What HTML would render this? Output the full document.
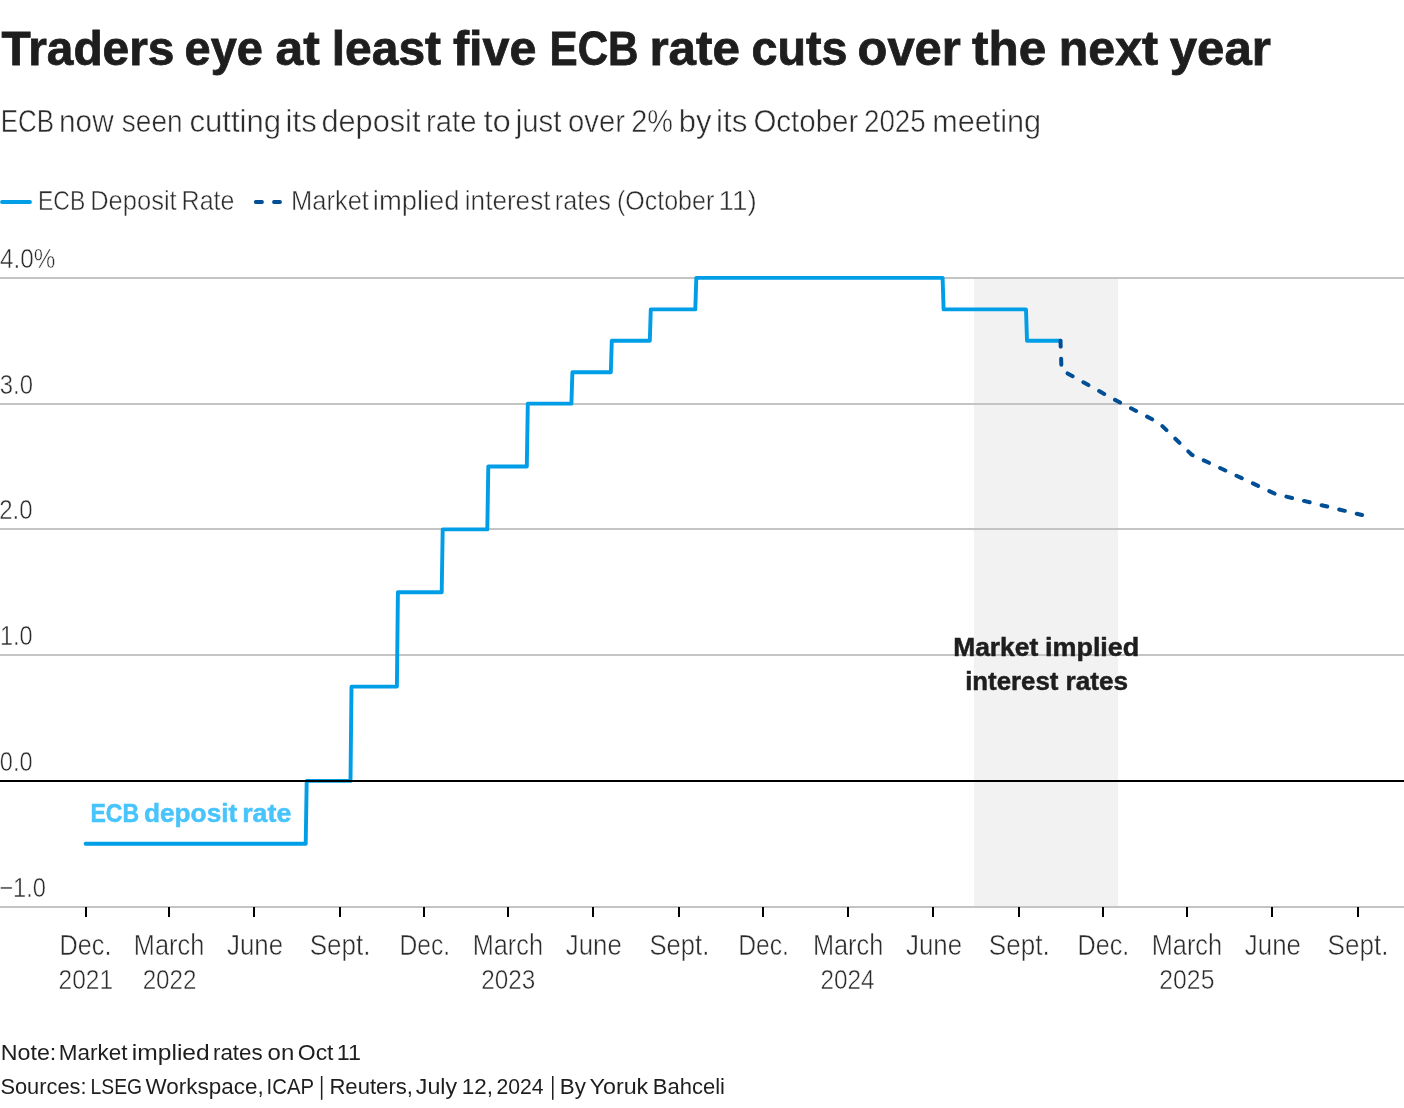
<!DOCTYPE html>
<html><head><meta charset="utf-8"><style>
html,body{margin:0;padding:0;background:#fff;width:1404px;height:1108px;overflow:hidden}
svg{display:block;font-family:"Liberation Sans",sans-serif;will-change:transform}
</style></head><body>
<svg width="1404" height="1108" viewBox="0 0 1404 1108">
<rect id="shade" x="974" y="279" width="144" height="627" fill="#f2f2f2"/>
<line x1="0" x2="1404" y1="278.00" y2="278.00" stroke="#c4c4c4" stroke-width="2"/>
<line x1="0" x2="1404" y1="404.00" y2="404.00" stroke="#c4c4c4" stroke-width="2"/>
<line x1="0" x2="1404" y1="529.00" y2="529.00" stroke="#c4c4c4" stroke-width="2"/>
<line x1="0" x2="1404" y1="655.00" y2="655.00" stroke="#c4c4c4" stroke-width="2"/>
<line x1="0" x2="1404" y1="907" y2="907" stroke="#c4c4c4" stroke-width="2"/>
<path id="ticks" d="M86 907V917 M169 907V917 M254 907V917 M340 907V917 M424 907V917 M508 907V917 M593 907V917 M679 907V917 M763 907V917 M848 907V917 M933 907V917 M1019 907V917 M1103 907V917 M1187 907V917 M1272 907V917 M1358 907V917" stroke="#000" stroke-width="2" fill="none"/>
<path id="blue" d="M85.60 843.77 L305.70 843.77 L306.70 780.90 L350.50 780.90 L351.50 686.59 L396.90 686.59 L397.90 592.27 L441.70 592.27 L442.70 529.40 L487.30 529.40 L488.30 466.52 L526.80 466.52 L527.80 403.65 L571.40 403.65 L572.40 372.21 L610.80 372.21 L611.80 340.77 L649.80 340.77 L650.80 309.34 L695.30 309.34 L696.30 277.90 L942.60 277.90 L943.60 309.34 L1026.00 309.34 L1027.00 340.77 L1060.50 340.77" stroke="#009ee6" stroke-width="3.9" fill="none" stroke-linejoin="round" stroke-linecap="round"/>
<path id="dash" d="M1060.50 340.77 L1061.50 370.00 L1113.70 399.20 L1159.20 423.00 L1191.70 454.70 L1275.50 494.00 L1362.00 515.00" stroke="#004f96" stroke-width="4" fill="none" stroke-dasharray="5.8 12.3" stroke-linejoin="round" stroke-linecap="round"/>
<line id="zero" x1="0" x2="1404" y1="781" y2="781" stroke="#000" stroke-width="2"/>
<line id="leg1" x1="2" x2="30" y1="202" y2="202" stroke="#009ee6" stroke-width="3.8" stroke-linecap="round"/>
<path id="leg2" d="M255.8 202H262M274 202H280" stroke="#004f96" stroke-width="3.8" stroke-linecap="round"/>
<text id="t_title_0" x="1.60" y="65.40" font-size="47.80" font-weight="bold" fill="#1e1e1e" stroke="#1e1e1e" stroke-width="0.80" textLength="172.82" lengthAdjust="spacingAndGlyphs">Traders</text>
<text id="t_title_1" x="184.60" y="65.40" font-size="47.80" font-weight="bold" fill="#1e1e1e" stroke="#1e1e1e" stroke-width="0.80" textLength="78.27" lengthAdjust="spacingAndGlyphs">eye</text>
<text id="t_title_2" x="275.60" y="65.40" font-size="47.80" font-weight="bold" fill="#1e1e1e" stroke="#1e1e1e" stroke-width="0.80" textLength="44.23" lengthAdjust="spacingAndGlyphs">at</text>
<text id="t_title_3" x="331.80" y="65.40" font-size="47.80" font-weight="bold" fill="#1e1e1e" stroke="#1e1e1e" stroke-width="0.80" textLength="109.27" lengthAdjust="spacingAndGlyphs">least</text>
<text id="t_title_4" x="453.00" y="65.40" font-size="47.80" font-weight="bold" fill="#1e1e1e" stroke="#1e1e1e" stroke-width="0.80" textLength="83.43" lengthAdjust="spacingAndGlyphs">five</text>
<text id="t_title_5" x="549.60" y="65.40" font-size="47.80" font-weight="bold" fill="#1e1e1e" stroke="#1e1e1e" stroke-width="0.80" textLength="88.95" lengthAdjust="spacingAndGlyphs">ECB</text>
<text id="t_title_6" x="649.40" y="65.40" font-size="47.80" font-weight="bold" fill="#1e1e1e" stroke="#1e1e1e" stroke-width="0.80" textLength="90.58" lengthAdjust="spacingAndGlyphs">rate</text>
<text id="t_title_7" x="751.60" y="65.40" font-size="47.80" font-weight="bold" fill="#1e1e1e" stroke="#1e1e1e" stroke-width="0.80" textLength="95.91" lengthAdjust="spacingAndGlyphs">cuts</text>
<text id="t_title_8" x="857.60" y="65.40" font-size="47.80" font-weight="bold" fill="#1e1e1e" stroke="#1e1e1e" stroke-width="0.80" textLength="103.23" lengthAdjust="spacingAndGlyphs">over</text>
<text id="t_title_9" x="972.00" y="65.40" font-size="47.80" font-weight="bold" fill="#1e1e1e" stroke="#1e1e1e" stroke-width="0.80" textLength="74.22" lengthAdjust="spacingAndGlyphs">the</text>
<text id="t_title_10" x="1058.80" y="65.40" font-size="47.80" font-weight="bold" fill="#1e1e1e" stroke="#1e1e1e" stroke-width="0.80" textLength="99.27" lengthAdjust="spacingAndGlyphs">next</text>
<text id="t_title_11" x="1169.80" y="65.40" font-size="47.80" font-weight="bold" fill="#1e1e1e" stroke="#1e1e1e" stroke-width="0.80" textLength="101.02" lengthAdjust="spacingAndGlyphs">year</text>
<text id="t_sub_0" x="0.80" y="131.60" font-size="31.44" font-weight="normal" fill="#2b2b2b" stroke="#fff" stroke-width="0.50" textLength="53.30" lengthAdjust="spacingAndGlyphs">ECB</text>
<text id="t_sub_1" x="59.00" y="131.60" font-size="31.44" font-weight="normal" fill="#2b2b2b" stroke="#fff" stroke-width="0.50" textLength="54.65" lengthAdjust="spacingAndGlyphs">now</text>
<text id="t_sub_2" x="121.80" y="131.60" font-size="31.44" font-weight="normal" fill="#2b2b2b" stroke="#fff" stroke-width="0.50" textLength="60.78" lengthAdjust="spacingAndGlyphs">seen</text>
<text id="t_sub_3" x="189.40" y="131.60" font-size="31.44" font-weight="normal" fill="#2b2b2b" stroke="#fff" stroke-width="0.50" textLength="91.76" lengthAdjust="spacingAndGlyphs">cutting</text>
<text id="t_sub_4" x="285.60" y="131.60" font-size="31.44" font-weight="normal" fill="#2b2b2b" stroke="#fff" stroke-width="0.50" textLength="31.11" lengthAdjust="spacingAndGlyphs">its</text>
<text id="t_sub_5" x="321.40" y="131.60" font-size="31.44" font-weight="normal" fill="#2b2b2b" stroke="#fff" stroke-width="0.50" textLength="99.03" lengthAdjust="spacingAndGlyphs">deposit</text>
<text id="t_sub_6" x="426.00" y="131.60" font-size="31.44" font-weight="normal" fill="#2b2b2b" stroke="#fff" stroke-width="0.50" textLength="50.43" lengthAdjust="spacingAndGlyphs">rate</text>
<text id="t_sub_7" x="483.40" y="131.60" font-size="31.44" font-weight="normal" fill="#2b2b2b" stroke="#fff" stroke-width="0.50" textLength="27.41" lengthAdjust="spacingAndGlyphs">to</text>
<text id="t_sub_8" x="515.80" y="131.60" font-size="31.44" font-weight="normal" fill="#2b2b2b" stroke="#fff" stroke-width="0.50" textLength="45.64" lengthAdjust="spacingAndGlyphs">just</text>
<text id="t_sub_9" x="568.00" y="131.60" font-size="31.44" font-weight="normal" fill="#2b2b2b" stroke="#fff" stroke-width="0.50" textLength="56.88" lengthAdjust="spacingAndGlyphs">over</text>
<text id="t_sub_10" x="631.20" y="131.60" font-size="31.44" font-weight="normal" fill="#2b2b2b" stroke="#fff" stroke-width="0.50" textLength="41.75" lengthAdjust="spacingAndGlyphs">2%</text>
<text id="t_sub_11" x="678.80" y="131.60" font-size="31.44" font-weight="normal" fill="#2b2b2b" stroke="#fff" stroke-width="0.50" textLength="32.64" lengthAdjust="spacingAndGlyphs">by</text>
<text id="t_sub_12" x="716.00" y="131.60" font-size="31.44" font-weight="normal" fill="#2b2b2b" stroke="#fff" stroke-width="0.50" textLength="31.31" lengthAdjust="spacingAndGlyphs">its</text>
<text id="t_sub_13" x="753.40" y="131.60" font-size="31.44" font-weight="normal" fill="#2b2b2b" stroke="#fff" stroke-width="0.50" textLength="104.84" lengthAdjust="spacingAndGlyphs">October</text>
<text id="t_sub_14" x="864.00" y="131.60" font-size="31.44" font-weight="normal" fill="#2b2b2b" stroke="#fff" stroke-width="0.50" textLength="61.70" lengthAdjust="spacingAndGlyphs">2025</text>
<text id="t_sub_15" x="932.20" y="131.60" font-size="31.44" font-weight="normal" fill="#2b2b2b" stroke="#fff" stroke-width="0.50" textLength="108.96" lengthAdjust="spacingAndGlyphs">meeting</text>
<text id="t_leg_0" x="38.00" y="209.90" font-size="28.42" font-weight="normal" fill="#2b2b2b" stroke="#fff" stroke-width="0.50" textLength="47.22" lengthAdjust="spacingAndGlyphs">ECB</text>
<text id="t_leg_1" x="90.20" y="209.90" font-size="28.42" font-weight="normal" fill="#2b2b2b" stroke="#fff" stroke-width="0.50" textLength="86.47" lengthAdjust="spacingAndGlyphs">Deposit</text>
<text id="t_leg_2" x="181.60" y="209.90" font-size="28.42" font-weight="normal" fill="#2b2b2b" stroke="#fff" stroke-width="0.50" textLength="52.89" lengthAdjust="spacingAndGlyphs">Rate</text>
<text id="t_leg_3" x="291.00" y="209.90" font-size="28.42" font-weight="normal" fill="#2b2b2b" stroke="#fff" stroke-width="0.50" textLength="77.89" lengthAdjust="spacingAndGlyphs">Market</text>
<text id="t_leg_4" x="372.80" y="209.90" font-size="28.42" font-weight="normal" fill="#2b2b2b" stroke="#fff" stroke-width="0.50" textLength="86.74" lengthAdjust="spacingAndGlyphs">implied</text>
<text id="t_leg_5" x="464.80" y="209.90" font-size="28.42" font-weight="normal" fill="#2b2b2b" stroke="#fff" stroke-width="0.50" textLength="85.68" lengthAdjust="spacingAndGlyphs">interest</text>
<text id="t_leg_6" x="554.80" y="209.90" font-size="28.42" font-weight="normal" fill="#2b2b2b" stroke="#fff" stroke-width="0.50" textLength="55.99" lengthAdjust="spacingAndGlyphs">rates</text>
<text id="t_leg_7" x="617.00" y="209.90" font-size="28.42" font-weight="normal" fill="#2b2b2b" stroke="#fff" stroke-width="0.50" textLength="97.27" lengthAdjust="spacingAndGlyphs">(October</text>
<text id="t_leg_8" x="718.60" y="209.90" font-size="28.42" font-weight="normal" fill="#2b2b2b" stroke="#fff" stroke-width="0.50" textLength="38.11" lengthAdjust="spacingAndGlyphs">11)</text>
<text id="t_y4" x="0.00" y="267.75" font-size="26.83" font-weight="normal" fill="#2b2b2b" stroke="#fff" stroke-width="0.50" textLength="55.44" lengthAdjust="spacingAndGlyphs">4.0%</text>
<text id="t_y3" x="-0.20" y="393.50" font-size="26.76" font-weight="normal" fill="#2b2b2b" stroke="#fff" stroke-width="0.50" textLength="33.20" lengthAdjust="spacingAndGlyphs">3.0</text>
<text id="t_y2" x="-0.80" y="518.80" font-size="27.21" font-weight="normal" fill="#2b2b2b" stroke="#fff" stroke-width="0.50" textLength="33.37" lengthAdjust="spacingAndGlyphs">2.0</text>
<text id="t_y1" x="0.00" y="644.90" font-size="27.21" font-weight="normal" fill="#2b2b2b" stroke="#fff" stroke-width="0.50" textLength="32.69" lengthAdjust="spacingAndGlyphs">1.0</text>
<text id="t_y0" x="-0.20" y="770.80" font-size="27.21" font-weight="normal" fill="#2b2b2b" stroke="#fff" stroke-width="0.50" textLength="32.74" lengthAdjust="spacingAndGlyphs">0.0</text>
<text id="t_ym1" x="-0.80" y="897.00" font-size="27.51" font-weight="normal" fill="#2b2b2b" stroke="#fff" stroke-width="0.50" textLength="46.74" lengthAdjust="spacingAndGlyphs">−1.0</text>
<text id="t_ann1_0" x="90.50" y="822.10" font-size="26.60" font-weight="bold" fill="#48c4fc" stroke="#48c4fc" stroke-width="0.50" textLength="48.62" lengthAdjust="spacingAndGlyphs">ECB</text>
<text id="t_ann1_1" x="144.00" y="822.10" font-size="26.60" font-weight="bold" fill="#48c4fc" stroke="#48c4fc" stroke-width="0.50" textLength="93.23" lengthAdjust="spacingAndGlyphs">deposit</text>
<text id="t_ann1_2" x="242.20" y="822.10" font-size="26.60" font-weight="bold" fill="#48c4fc" stroke="#48c4fc" stroke-width="0.50" textLength="49.11" lengthAdjust="spacingAndGlyphs">rate</text>
<text id="t_ann2a_0" x="953.20" y="655.70" font-size="25.44" font-weight="bold" fill="#1e1e1e" stroke="#1e1e1e" stroke-width="0.50" textLength="85.02" lengthAdjust="spacingAndGlyphs">Market</text>
<text id="t_ann2a_1" x="1045.00" y="655.70" font-size="25.44" font-weight="bold" fill="#1e1e1e" stroke="#1e1e1e" stroke-width="0.50" textLength="94.28" lengthAdjust="spacingAndGlyphs">implied</text>
<text id="t_ann2b_0" x="965.20" y="689.60" font-size="25.44" font-weight="bold" fill="#1e1e1e" stroke="#1e1e1e" stroke-width="0.50" textLength="93.22" lengthAdjust="spacingAndGlyphs">interest</text>
<text id="t_ann2b_1" x="1065.60" y="689.60" font-size="25.44" font-weight="bold" fill="#1e1e1e" stroke="#1e1e1e" stroke-width="0.50" textLength="62.51" lengthAdjust="spacingAndGlyphs">rates</text>
<text id="t_note_0" x="0.80" y="1059.90" font-size="22.97" font-weight="normal" fill="#1e1e1e" textLength="55.47" lengthAdjust="spacingAndGlyphs">Note:</text>
<text id="t_note_1" x="58.80" y="1059.90" font-size="22.97" font-weight="normal" fill="#1e1e1e" textLength="68.64" lengthAdjust="spacingAndGlyphs">Market</text>
<text id="t_note_2" x="131.80" y="1059.90" font-size="22.97" font-weight="normal" fill="#1e1e1e" textLength="77.89" lengthAdjust="spacingAndGlyphs">implied</text>
<text id="t_note_3" x="213.00" y="1059.90" font-size="22.97" font-weight="normal" fill="#1e1e1e" textLength="49.69" lengthAdjust="spacingAndGlyphs">rates</text>
<text id="t_note_4" x="267.60" y="1059.90" font-size="22.97" font-weight="normal" fill="#1e1e1e" textLength="26.65" lengthAdjust="spacingAndGlyphs">on</text>
<text id="t_note_5" x="297.80" y="1059.90" font-size="22.97" font-weight="normal" fill="#1e1e1e" textLength="35.70" lengthAdjust="spacingAndGlyphs">Oct</text>
<text id="t_note_6" x="336.80" y="1059.90" font-size="22.97" font-weight="normal" fill="#1e1e1e" textLength="24.16" lengthAdjust="spacingAndGlyphs">11</text>
<text id="t_src_0" x="0.40" y="1093.90" font-size="22.67" font-weight="normal" fill="#1e1e1e" textLength="86.10" lengthAdjust="spacingAndGlyphs">Sources:</text>
<text id="t_src_1" x="90.60" y="1093.90" font-size="22.67" font-weight="normal" fill="#1e1e1e" textLength="51.52" lengthAdjust="spacingAndGlyphs">LSEG</text>
<text id="t_src_2" x="145.60" y="1093.90" font-size="22.67" font-weight="normal" fill="#1e1e1e" textLength="118.04" lengthAdjust="spacingAndGlyphs">Workspace,</text>
<text id="t_src_3" x="266.60" y="1093.90" font-size="22.67" font-weight="normal" fill="#1e1e1e" textLength="47.35" lengthAdjust="spacingAndGlyphs">ICAP</text>
<text id="t_src_4" x="329.40" y="1093.90" font-size="22.67" font-weight="normal" fill="#1e1e1e" textLength="83.54" lengthAdjust="spacingAndGlyphs">Reuters,</text>
<text id="t_src_5" x="415.80" y="1093.90" font-size="22.67" font-weight="normal" fill="#1e1e1e" textLength="41.23" lengthAdjust="spacingAndGlyphs">July</text>
<text id="t_src_6" x="461.80" y="1093.90" font-size="22.67" font-weight="normal" fill="#1e1e1e" textLength="31.17" lengthAdjust="spacingAndGlyphs">12,</text>
<text id="t_src_7" x="496.40" y="1093.90" font-size="22.67" font-weight="normal" fill="#1e1e1e" textLength="47.09" lengthAdjust="spacingAndGlyphs">2024</text>
<text id="t_src_8" x="559.80" y="1093.90" font-size="22.67" font-weight="normal" fill="#1e1e1e" textLength="26.13" lengthAdjust="spacingAndGlyphs">By</text>
<text id="t_src_9" x="589.60" y="1093.90" font-size="22.67" font-weight="normal" fill="#1e1e1e" textLength="58.64" lengthAdjust="spacingAndGlyphs">Yoruk</text>
<text id="t_src_10" x="652.80" y="1093.90" font-size="22.67" font-weight="normal" fill="#1e1e1e" textLength="72.10" lengthAdjust="spacingAndGlyphs">Bahceli</text>
<text id="t_x0a" x="59.60" y="955.40" font-size="29.17" font-weight="normal" fill="#2b2b2b" stroke="#fff" stroke-width="0.50" textLength="51.83" lengthAdjust="spacingAndGlyphs">Dec.</text>
<text id="t_x0b" x="58.60" y="989.10" font-size="28.42" font-weight="normal" fill="#2b2b2b" stroke="#fff" stroke-width="0.50" textLength="54.56" lengthAdjust="spacingAndGlyphs">2021</text>
<text id="t_x1a" x="133.86" y="955.40" font-size="29.17" font-weight="normal" fill="#2b2b2b" stroke="#fff" stroke-width="0.50" textLength="70.42" lengthAdjust="spacingAndGlyphs">March</text>
<text id="t_x1b" x="142.66" y="989.10" font-size="28.42" font-weight="normal" fill="#2b2b2b" stroke="#fff" stroke-width="0.50" textLength="53.80" lengthAdjust="spacingAndGlyphs">2022</text>
<text id="t_x2a" x="226.99" y="955.40" font-size="29.17" font-weight="normal" fill="#2b2b2b" stroke="#fff" stroke-width="0.50" textLength="56.08" lengthAdjust="spacingAndGlyphs">June</text>
<text id="t_x3a" x="309.71" y="955.40" font-size="29.17" font-weight="normal" fill="#2b2b2b" stroke="#fff" stroke-width="0.50" textLength="60.90" lengthAdjust="spacingAndGlyphs">Sept.</text>
<text id="t_x4a" x="399.40" y="955.40" font-size="29.17" font-weight="normal" fill="#2b2b2b" stroke="#fff" stroke-width="0.50" textLength="50.73" lengthAdjust="spacingAndGlyphs">Dec.</text>
<text id="t_x5a" x="472.67" y="955.40" font-size="29.17" font-weight="normal" fill="#2b2b2b" stroke="#fff" stroke-width="0.50" textLength="70.42" lengthAdjust="spacingAndGlyphs">March</text>
<text id="t_x5b" x="481.27" y="989.10" font-size="28.42" font-weight="normal" fill="#2b2b2b" stroke="#fff" stroke-width="0.50" textLength="54.10" lengthAdjust="spacingAndGlyphs">2023</text>
<text id="t_x6a" x="565.79" y="955.40" font-size="29.17" font-weight="normal" fill="#2b2b2b" stroke="#fff" stroke-width="0.50" textLength="56.08" lengthAdjust="spacingAndGlyphs">June</text>
<text id="t_x7a" x="649.51" y="955.40" font-size="29.17" font-weight="normal" fill="#2b2b2b" stroke="#fff" stroke-width="0.50" textLength="59.84" lengthAdjust="spacingAndGlyphs">Sept.</text>
<text id="t_x8a" x="738.21" y="955.40" font-size="29.17" font-weight="normal" fill="#2b2b2b" stroke="#fff" stroke-width="0.50" textLength="50.73" lengthAdjust="spacingAndGlyphs">Dec.</text>
<text id="t_x9a" x="812.90" y="955.40" font-size="29.17" font-weight="normal" fill="#2b2b2b" stroke="#fff" stroke-width="0.50" textLength="70.43" lengthAdjust="spacingAndGlyphs">March</text>
<text id="t_x9b" x="820.50" y="989.10" font-size="28.42" font-weight="normal" fill="#2b2b2b" stroke="#fff" stroke-width="0.50" textLength="54.10" lengthAdjust="spacingAndGlyphs">2024</text>
<text id="t_x10a" x="906.02" y="955.40" font-size="29.17" font-weight="normal" fill="#2b2b2b" stroke="#fff" stroke-width="0.50" textLength="56.08" lengthAdjust="spacingAndGlyphs">June</text>
<text id="t_x11a" x="988.75" y="955.40" font-size="29.17" font-weight="normal" fill="#2b2b2b" stroke="#fff" stroke-width="0.50" textLength="60.92" lengthAdjust="spacingAndGlyphs">Sept.</text>
<text id="t_x12a" x="1077.44" y="955.40" font-size="29.17" font-weight="normal" fill="#2b2b2b" stroke="#fff" stroke-width="0.50" textLength="51.83" lengthAdjust="spacingAndGlyphs">Dec.</text>
<text id="t_x13a" x="1151.71" y="955.40" font-size="29.17" font-weight="normal" fill="#2b2b2b" stroke="#fff" stroke-width="0.50" textLength="70.42" lengthAdjust="spacingAndGlyphs">March</text>
<text id="t_x13b" x="1159.31" y="989.10" font-size="28.42" font-weight="normal" fill="#2b2b2b" stroke="#fff" stroke-width="0.50" textLength="55.14" lengthAdjust="spacingAndGlyphs">2025</text>
<text id="t_x14a" x="1244.83" y="955.40" font-size="29.17" font-weight="normal" fill="#2b2b2b" stroke="#fff" stroke-width="0.50" textLength="56.10" lengthAdjust="spacingAndGlyphs">June</text>
<text id="t_x15a" x="1327.55" y="955.40" font-size="29.17" font-weight="normal" fill="#2b2b2b" stroke="#fff" stroke-width="0.50" textLength="60.90" lengthAdjust="spacingAndGlyphs">Sept.</text>
<rect id="pipe1" x="320.9" y="1076.0" width="1.5" height="23.8" fill="#1e1e1e"/>
<rect id="pipe2" x="552.0" y="1076.0" width="1.5" height="23.8" fill="#1e1e1e"/>
</svg>
</body></html>
